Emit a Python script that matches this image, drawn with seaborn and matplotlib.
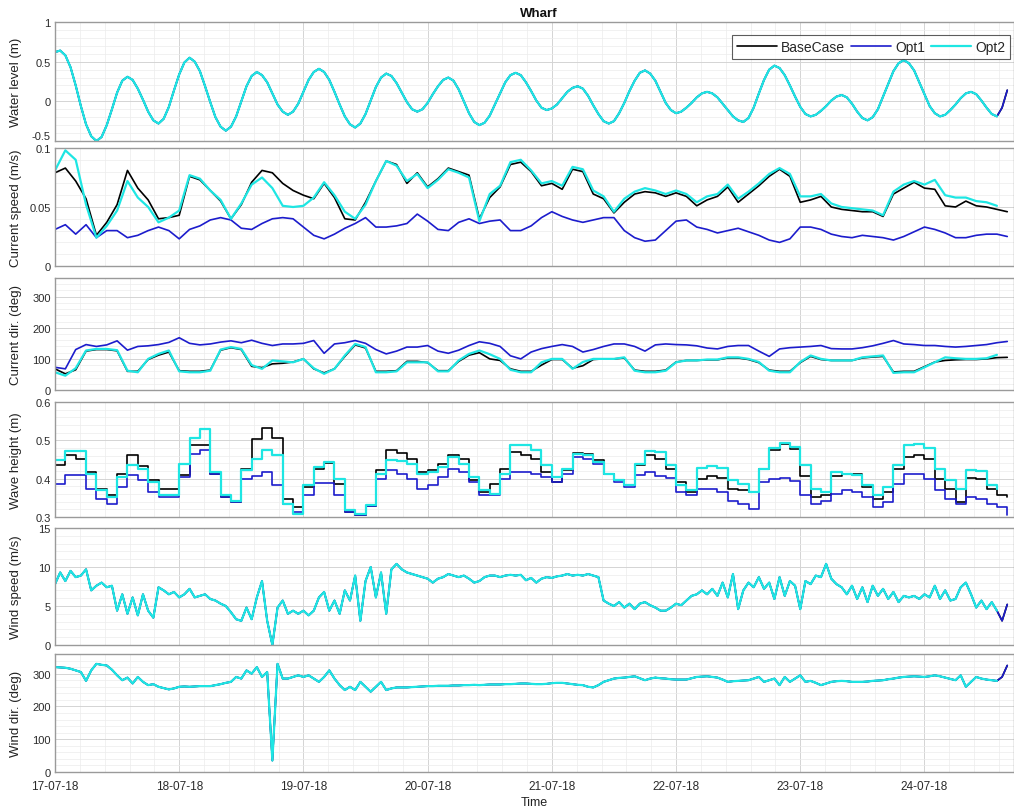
import numpy as np
import pandas as pd
import matplotlib
matplotlib.use("Agg")
import matplotlib.pyplot as plt
import matplotlib.dates as mdates
from matplotlib.ticker import MultipleLocator, FuncFormatter
import seaborn as sns

sns.set_theme(style="white")
plt.rcParams["font.family"] = ["Liberation Sans", "DejaVu Sans"]

START = pd.Timestamp("2018-07-17 00:00")
END_HOURS = 185.3

cases = ["BaseCase", "Opt1", "Opt2"]
case_colors = ["#000000", "#1c1ccc", "#1ee6e3"]
case_widths = [1.2, 1.2, 1.6]

# ---- water level (m), hourly; identical for all runs ----
water_level = [
    0.62, 0.64, 0.58, 0.43, 0.20, -0.06, -0.29, -0.44, -0.50,
    -0.45, -0.30, -0.10, 0.11, 0.26, 0.31,
    0.27, 0.16, 0.02, -0.13, -0.24, -0.28,
    -0.22, -0.07, 0.14, 0.34, 0.49, 0.55,
    0.50, 0.38, 0.19, -0.01, -0.20, -0.32, -0.37,
    -0.32, -0.19, 0.00, 0.19, 0.32, 0.37,
    0.33, 0.24, 0.10, -0.04, -0.13, -0.17,
    -0.13, -0.03, 0.12, 0.27, 0.37, 0.41,
    0.37, 0.27, 0.12, -0.04, -0.19, -0.29, -0.33,
    -0.28, -0.16, 0.01, 0.18, 0.30, 0.35,
    0.32, 0.23, 0.11, -0.01, -0.10, -0.13,
    -0.10, -0.02, 0.09, 0.19, 0.27, 0.30,
    0.26, 0.15, 0.00, -0.15, -0.26, -0.30,
    -0.27, -0.18, -0.04, 0.10, 0.24, 0.33, 0.36,
    0.33, 0.24, 0.13, 0.01, -0.08, -0.11,
    -0.09, -0.04, 0.04, 0.12, 0.17, 0.19,
    0.16, 0.07, -0.05, -0.16, -0.25, -0.28,
    -0.25, -0.15, -0.02, 0.13, 0.26, 0.36, 0.39,
    0.35, 0.26, 0.12, -0.02, -0.11, -0.15,
    -0.13, -0.08, -0.02, 0.05, 0.10, 0.12,
    0.10, 0.05, -0.03, -0.11, -0.19, -0.24, -0.26,
    -0.21, -0.08, 0.10, 0.27, 0.40, 0.45,
    0.42, 0.33, 0.20, 0.06, -0.07, -0.16, -0.19,
    -0.17, -0.12, -0.06, 0.01, 0.06, 0.08,
    0.05, -0.03, -0.13, -0.21, -0.24,
    -0.20, -0.10, 0.06, 0.22, 0.38, 0.48, 0.52,
    0.48, 0.39, 0.24, 0.09, -0.06, -0.15, -0.19,
    -0.17, -0.11, -0.04, 0.04, 0.10, 0.12,
    0.09, 0.01, -0.08, -0.16, -0.19,
    -0.08, 0.14,
]

# ---- current speed (m/s), every 2 h ----
cur_speed_base = [
    0.079, 0.083, 0.072, 0.057, 0.026, 0.037, 0.052, 0.081, 0.066, 0.056,
    0.040, 0.041, 0.043, 0.076, 0.073, 0.064, 0.055, 0.040, 0.052, 0.071,
    0.081, 0.079, 0.070, 0.064, 0.060, 0.057, 0.070, 0.058, 0.040, 0.039,
    0.054, 0.072, 0.089, 0.086, 0.070, 0.079, 0.067, 0.074, 0.083, 0.080,
    0.077, 0.040, 0.058, 0.067, 0.086, 0.088, 0.080, 0.068, 0.070, 0.065,
    0.082, 0.080, 0.061, 0.057, 0.045, 0.054, 0.061, 0.063, 0.062, 0.059,
    0.062, 0.059, 0.051, 0.056, 0.059, 0.067, 0.054, 0.061, 0.068, 0.076,
    0.082, 0.076, 0.054, 0.056, 0.059, 0.050, 0.048, 0.047, 0.046, 0.046,
    0.042, 0.061, 0.066, 0.071, 0.066, 0.065, 0.051, 0.050, 0.055, 0.051,
    0.050, 0.048, 0.046,
]
cur_speed_opt1 = [
    0.031, 0.035, 0.027, 0.035, 0.024, 0.030, 0.030, 0.024, 0.026, 0.030,
    0.033, 0.030, 0.023, 0.031, 0.034, 0.039, 0.041, 0.039, 0.032, 0.031,
    0.036, 0.040, 0.041, 0.040, 0.033, 0.026, 0.023, 0.027, 0.032, 0.036,
    0.041, 0.033, 0.033, 0.034, 0.036, 0.044, 0.038, 0.031, 0.030, 0.037,
    0.040, 0.036, 0.038, 0.039, 0.030, 0.030, 0.034, 0.041, 0.046, 0.042,
    0.039, 0.037, 0.039, 0.041, 0.041, 0.030, 0.024, 0.021, 0.022, 0.030,
    0.038, 0.039, 0.033, 0.031, 0.028, 0.030, 0.032, 0.029, 0.026, 0.022,
    0.020, 0.023, 0.033, 0.033, 0.031, 0.027, 0.025, 0.024, 0.026, 0.025,
    0.024, 0.022, 0.025, 0.029, 0.033, 0.031, 0.028, 0.024, 0.024, 0.026,
    0.027, 0.027, 0.025,
]
cur_speed_opt2 = [
    0.081, 0.098, 0.090, 0.052, 0.024, 0.034, 0.047, 0.072, 0.058, 0.050,
    0.037, 0.041, 0.047, 0.077, 0.074, 0.064, 0.056, 0.040, 0.053, 0.069,
    0.075, 0.066, 0.051, 0.050, 0.051, 0.058, 0.071, 0.060, 0.046, 0.040,
    0.052, 0.072, 0.089, 0.085, 0.072, 0.078, 0.066, 0.073, 0.082, 0.079,
    0.075, 0.038, 0.061, 0.068, 0.088, 0.090, 0.081, 0.070, 0.072, 0.068,
    0.084, 0.082, 0.064, 0.059, 0.046, 0.057, 0.063, 0.066, 0.064, 0.061,
    0.064, 0.061, 0.054, 0.059, 0.061, 0.069, 0.057, 0.063, 0.070, 0.078,
    0.083, 0.078, 0.059, 0.059, 0.061, 0.053, 0.050, 0.049, 0.048, 0.047,
    0.043, 0.063, 0.069, 0.072, 0.069, 0.073, 0.060, 0.058, 0.058, 0.055,
    0.054, 0.051,
]

# ---- current direction (deg), every 2 h ----
cur_dir_base = [
    68, 52, 65, 125, 130, 130, 126, 60, 60, 98,
    112, 122, 62, 60, 60, 64, 128, 136, 130, 76,
    72, 84, 86, 90, 100, 68, 55, 68, 108, 145,
    135, 60, 60, 62, 92, 92, 88, 62, 62, 92,
    112, 120, 100, 95, 68, 60, 60, 80, 98, 98,
    70, 78, 98, 100, 100, 103, 64, 60, 60, 64,
    90, 95, 95, 97, 97, 103, 103, 98, 88, 64,
    60, 60, 88, 108, 98, 95, 95, 95, 103, 106,
    108, 58, 60, 60, 75, 90, 95, 97, 98, 98,
    100, 104, 105,
]
cur_dir_opt1 = [
    73, 68, 130, 146, 140, 145, 158, 128, 140, 142,
    146, 153, 168, 150, 145, 148, 154, 158, 152, 160,
    150, 143, 148, 148, 150, 159, 118, 148, 152, 159,
    150, 130, 116, 125, 138, 138, 143, 125, 118, 128,
    143, 155, 150, 140, 110, 100, 122, 133, 140, 146,
    140, 122, 130, 140, 148, 148, 140, 125, 145, 148,
    146, 145, 142, 135, 132, 140, 143, 143, 125, 108,
    132, 136, 138, 140, 143, 133, 132, 132, 136, 142,
    150, 159, 148, 146, 143, 143, 140, 138, 140, 143,
    146, 152, 156,
]
cur_dir_opt2 = [
    57, 46, 70, 127, 132, 132, 128, 62, 57, 100,
    116, 127, 60, 57, 57, 62, 130, 138, 132, 80,
    68, 95, 92, 89, 100, 70, 52, 68, 111, 148,
    138, 57, 57, 60, 89, 89, 89, 60, 60, 95,
    116, 127, 115, 100, 65, 57, 57, 89, 100, 100,
    68, 90, 100, 100, 100, 105, 62, 57, 57, 62,
    89, 95, 95, 98, 98, 105, 105, 100, 90, 62,
    57, 57, 90, 111, 100, 95, 95, 95, 105, 108,
    111, 55, 57, 57, 73, 89, 105, 102, 100, 100,
    102, 113,
]

# ---- significant wave height (m), 2-hourly blocks ----
wave_base = [
    0.435, 0.463, 0.452, 0.417, 0.374, 0.357, 0.413, 0.463, 0.433, 0.396,
    0.374, 0.374, 0.409, 0.487, 0.487, 0.413, 0.352, 0.339, 0.426, 0.504,
    0.532, 0.506, 0.348, 0.326, 0.378, 0.426, 0.440, 0.387, 0.313, 0.306,
    0.330, 0.422, 0.474, 0.468, 0.452, 0.417, 0.422, 0.439, 0.461, 0.452,
    0.396, 0.365, 0.387, 0.426, 0.470, 0.461, 0.452, 0.417, 0.391, 0.422,
    0.468, 0.465, 0.448, 0.413, 0.396, 0.383, 0.435, 0.461, 0.452, 0.426,
    0.391, 0.365, 0.400, 0.407, 0.402, 0.374, 0.370, 0.365, 0.426, 0.474,
    0.491, 0.478, 0.407, 0.352, 0.357, 0.407, 0.413, 0.411, 0.378, 0.348,
    0.365, 0.426, 0.457, 0.463, 0.452, 0.400, 0.374, 0.339, 0.402, 0.400,
    0.374, 0.357, 0.352,
]
wave_opt1 = [
    0.387, 0.410, 0.410, 0.374, 0.348, 0.335, 0.378, 0.409, 0.396, 0.365,
    0.352, 0.352, 0.404, 0.465, 0.474, 0.413, 0.352, 0.339, 0.400, 0.407,
    0.417, 0.383, 0.335, 0.313, 0.357, 0.390, 0.390, 0.357, 0.313, 0.306,
    0.330, 0.400, 0.422, 0.413, 0.400, 0.374, 0.383, 0.404, 0.426, 0.417,
    0.391, 0.357, 0.357, 0.400, 0.417, 0.417, 0.413, 0.404, 0.391, 0.413,
    0.457, 0.452, 0.439, 0.411, 0.391, 0.378, 0.409, 0.417, 0.407, 0.402,
    0.365, 0.357, 0.374, 0.374, 0.365, 0.341, 0.335, 0.322, 0.391, 0.400,
    0.402, 0.393, 0.357, 0.335, 0.343, 0.361, 0.370, 0.365, 0.352, 0.326,
    0.339, 0.387, 0.413, 0.413, 0.400, 0.370, 0.348, 0.335, 0.352, 0.348,
    0.335, 0.326, 0.304,
]
wave_opt2 = [
    0.448, 0.471, 0.471, 0.413, 0.370, 0.352, 0.404, 0.435, 0.426, 0.391,
    0.357, 0.357, 0.439, 0.506, 0.530, 0.417, 0.357, 0.343, 0.422, 0.452,
    0.474, 0.461, 0.335, 0.309, 0.383, 0.430, 0.443, 0.400, 0.317, 0.309,
    0.332, 0.413, 0.448, 0.446, 0.439, 0.413, 0.417, 0.430, 0.457, 0.439,
    0.404, 0.370, 0.361, 0.413, 0.487, 0.487, 0.474, 0.435, 0.404, 0.426,
    0.465, 0.461, 0.443, 0.413, 0.396, 0.383, 0.439, 0.471, 0.470, 0.435,
    0.383, 0.370, 0.428, 0.433, 0.428, 0.396, 0.387, 0.365, 0.426, 0.480,
    0.494, 0.482, 0.435, 0.374, 0.365, 0.417, 0.413, 0.409, 0.383, 0.357,
    0.378, 0.435, 0.489, 0.491, 0.480, 0.426, 0.396, 0.374, 0.422, 0.420,
    0.383, 0.374,
]

# ---- wind speed (m/s), hourly; same forcing for all runs ----
wind_speed = [
    7.8, 9.3, 8.2, 9.5, 8.7, 8.9, 9.7, 7.0, 7.6, 8.0,
    7.4, 7.6, 4.4, 6.5, 4.0, 6.1, 3.8, 6.5, 4.4, 3.5,
    7.4, 7.0, 6.5, 6.8, 6.1, 6.5, 7.2, 6.1, 6.3, 6.5,
    5.9, 5.7, 5.3, 5.0, 4.2, 3.3, 3.1, 4.8, 3.3, 6.1,
    8.2, 3.1, 0.0, 4.8, 5.7, 4.0, 4.4, 4.0, 4.4, 3.8,
    4.4, 6.1, 6.8, 4.4, 5.7, 4.0, 7.0, 5.7, 8.9, 3.1,
    8.2, 10.0, 6.1, 9.3, 4.0, 9.7, 10.4, 9.7, 9.3, 9.1,
    8.9, 8.7, 8.5, 8.0, 8.5, 8.7, 9.1, 8.9, 8.7, 8.9,
    8.5, 8.0, 8.2, 8.7, 8.9, 8.9, 8.7, 8.9, 9.0, 8.9,
    9.0, 8.3, 8.6, 8.0, 8.5, 8.7, 8.6, 8.8, 8.9, 9.1,
    8.9, 9.0, 8.9, 9.1, 8.9, 8.7, 5.7, 5.3, 5.0, 5.5,
    4.8, 5.3, 4.6, 5.3, 5.5, 5.1, 4.8, 4.4, 4.4, 4.8,
    5.3, 5.1, 5.7, 6.3, 6.5, 7.0, 6.5, 7.2, 6.3, 8.0,
    6.1, 9.1, 4.6, 7.0, 8.0, 7.4, 8.7, 7.2, 8.0, 5.9,
    8.7, 6.3, 8.2, 7.6, 4.6, 8.2, 7.8, 8.9, 8.7, 10.4,
    8.5, 7.8, 7.4, 6.5, 7.6, 5.9, 7.4, 5.5, 7.6, 6.3,
    7.2, 5.9, 6.8, 5.5, 6.3, 6.1, 6.3, 5.9, 6.5, 6.1,
    7.6, 5.9, 7.0, 5.7, 5.9, 7.4, 8.0, 6.5, 4.8, 5.7,
    4.6, 5.5, 4.4, 3.1, 5.2,
]

# ---- wind direction (deg), hourly ----
wind_dir = [
    320, 319, 318, 315, 310, 305, 278, 310, 330, 327,
    325, 312, 295, 280, 288, 270, 290, 275, 265, 268,
    260, 256, 252, 255, 260, 261, 260, 261, 262, 262,
    262, 265, 268, 272, 275, 290, 285, 310, 300, 320,
    290, 305, 35, 330, 285, 285, 290, 295, 290, 295,
    285, 275, 290, 310, 285, 265, 250, 260, 250, 275,
    260, 245, 260, 275, 250, 255, 258, 258, 258, 259,
    260, 261, 262, 262, 263, 263, 263, 264, 264, 265,
    265, 266, 265, 266, 267, 267, 267, 268, 268, 269,
    270, 270, 269, 268, 268, 269, 271, 272, 272, 270,
    268, 266, 265, 260, 258, 265, 275, 280, 285, 287,
    288, 290, 292, 286, 280, 285, 288, 286, 285, 283,
    282, 282, 282, 286, 290, 291, 292, 290, 288, 282,
    275, 277, 278, 279, 280, 285, 290, 275, 280, 285,
    265, 290, 275, 285, 295, 275, 278, 272, 265, 270,
    275, 277, 278, 277, 275, 275, 275, 276, 278, 279,
    280, 283, 285, 288, 290, 291, 292, 291, 290, 292,
    295, 292, 288, 284, 280, 295, 260, 275, 290, 285,
    282, 280, 278, 290, 325,
]

# The Opt2 record stops two hours before the other runs
OPT2_CUT = 2

panels = [
    dict(label="Water level (m)", step=1, steps=False,
         series=[water_level, water_level, water_level[:-OPT2_CUT]],
         ylim=(-0.5, 1.0), major=0.5, minor=0.1),
    dict(label="Current speed (m/s)", step=2, steps=False,
         series=[cur_speed_base, cur_speed_opt1, cur_speed_opt2],
         ylim=(0, 0.1), major=0.05, minor=0.01),
    dict(label="Current dir. (deg)", step=2, steps=False,
         series=[cur_dir_base, cur_dir_opt1, cur_dir_opt2],
         ylim=(0, 360), major=100, minor=20),
    dict(label="Wave height (m)", step=2, steps=True,
         series=[wave_base, wave_opt1, wave_opt2],
         ylim=(0.3, 0.6), major=0.1, minor=0.02),
    dict(label="Wind speed (m/s)", step=1, steps=False,
         series=[wind_speed, wind_speed, wind_speed[:-OPT2_CUT]],
         ylim=(0, 15), major=5, minor=1),
    dict(label="Wind dir. (deg)", step=1, steps=False,
         series=[wind_dir, wind_dir, wind_dir[:-OPT2_CUT]],
         ylim=(0, 360), major=100, minor=20),
]

# axes extents in pixels (top, bottom) on a 1014 x 812 canvas
W, H = 1014, 812
left_px, right_px = 55, 1014
rows_px = [(23, 142), (149, 267), (279, 391), (403, 518), (529, 646), (655, 773)]

fig = plt.figure(figsize=(W / 100, H / 100), dpi=100)
fig.patch.set_facecolor("white")

x0 = START
x1 = START + pd.Timedelta(hours=END_HOURS)
fmt = FuncFormatter(lambda v, _: f"{round(v, 6):g}")

axes = []
for i, p in enumerate(panels):
    top, bot = rows_px[i]
    ax = fig.add_axes([left_px / W, 1 - bot / H, (right_px - left_px) / W, (bot - top) / H])
    axes.append(ax)
    for case, color, lw, vals in zip(cases, case_colors, case_widths, p["series"]):
        t = START + pd.to_timedelta(np.arange(len(vals)) * p["step"], unit="h")
        sns.lineplot(x=t, y=np.asarray(vals, dtype=float), ax=ax, color=color,
                     linewidth=lw, estimator=None, legend=False,
                     drawstyle="steps-post" if p["steps"] else "default")
    ax.set_xlim(x0, x1)
    ax.set_ylim(*p["ylim"])
    ax.yaxis.set_major_locator(MultipleLocator(p["major"]))
    ax.yaxis.set_minor_locator(MultipleLocator(p["minor"]))
    ax.yaxis.set_major_formatter(fmt)
    ax.xaxis.set_major_locator(mdates.DayLocator())
    ax.xaxis.set_minor_locator(MultipleLocator(0.2))
    ax.xaxis.set_major_formatter(mdates.DateFormatter("%d-%m-%y"))
    ax.set_axisbelow(True)
    ax.grid(which="major", color="#d4d4d4", linewidth=0.7)
    ax.grid(which="minor", color="#ececec", linewidth=0.5)
    for side in ("top", "left", "bottom", "right"):
        ax.spines[side].set_color("#9a9a9a")
        ax.spines[side].set_linewidth(1.0)
    ax.tick_params(axis="both", which="major", direction="in", length=4,
                   color="#555555", labelsize=8, labelcolor="#2a2a2a", pad=3)
    ax.tick_params(axis="both", which="minor", length=0)
    ax.set_ylabel(p["label"], fontsize=9.5, color="#222222")
    ax.yaxis.set_label_coords(-0.034, 0.5)
    ax.set_xlabel("")
    if i < len(panels) - 1:
        ax.tick_params(axis="x", labelbottom=False)

# lift the lowest water-level label so it clears the "0.1" of the panel below
fig.canvas.draw()
for tick in axes[0].yaxis.get_major_ticks():
    if abs(tick.get_loc() - panels[0]["ylim"][0]) < 1e-9:
        tick.label1.set_va("bottom")

axes[-1].set_xlabel("Time", fontsize=9, color="#222222", labelpad=3)
axes[-1].tick_params(axis="x", pad=6, labelsize=8.5)

handles = axes[0].get_lines()[:3]
leg = axes[0].legend(handles, cases, loc="upper right", bbox_to_anchor=(0.996, 0.89),
                     ncol=3, fontsize=10, frameon=True, fancybox=False,
                     handlelength=2.9, handletextpad=0.3, columnspacing=0.4,
                     borderpad=0.35, borderaxespad=0.0)
leg.get_frame().set_edgecolor("#333333")
leg.get_frame().set_linewidth(0.8)

fig.text((left_px + 484) / W, 1 - 14 / H, "Wharf", ha="center", va="center",
         fontsize=9.5, fontweight="bold", color="#111111")

fig.savefig("out.png", dpi=100, facecolor="white")
